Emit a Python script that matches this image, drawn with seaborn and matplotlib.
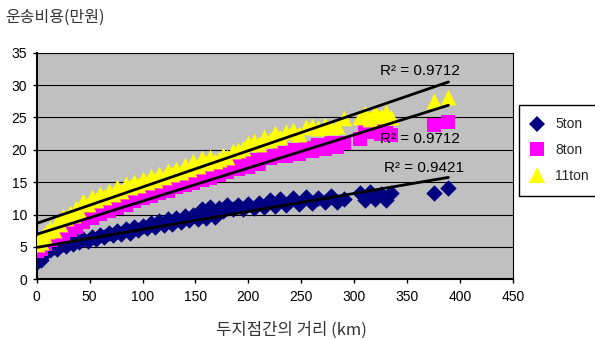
import numpy as np
import pandas as pd
import matplotlib
matplotlib.use("Agg")
import matplotlib.pyplot as plt
import seaborn as sns

# 두 지점간 거리(km)
distance = [0, 2, 4, 6, 8, 10, 13, 16, 19, 22, 25, 28, 31, 34, 37, 40,
            44, 48, 52, 56, 60, 64, 68, 72, 76, 80, 84, 88, 92, 96, 100,
            104, 108, 112, 116, 120, 124, 128, 132, 136, 140, 144, 148, 152,
            156, 160, 164, 168, 172, 176, 180, 185, 190, 195, 200, 205, 210,
            215, 220, 225, 230, 236, 242, 248, 254, 260, 266, 272, 278, 284,
            290, 305, 310, 315, 320, 325, 330, 335, 375, 389]

# 운송비용(만원)
cost_5ton = [2.7, 3.4, 3.0, 3.7, 4.0, 4.4, 4.6, 5.0, 4.7, 5.3, 5.5, 5.2, 5.9, 5.5, 6.1, 5.8,
             6.3, 5.9, 6.6, 6.2, 6.9, 6.5, 7.2, 6.8, 7.4, 7.0, 7.8, 7.2, 8.1, 7.6, 8.3,
             7.9, 8.7, 8.1, 9.0, 8.4, 9.3, 8.6, 9.5, 8.9, 9.7, 9.1, 10.0, 9.3,
             10.8, 9.4, 11.2, 9.6, 11.0, 10.6, 11.4, 10.8, 11.5, 10.8, 11.6, 11.0, 11.8,
             11.1, 12.3, 11.3, 12.4, 11.4, 12.5, 11.6, 12.7, 11.8, 12.6, 12.0, 12.8, 11.9,
             12.4, 13.4, 12.3, 13.5, 12.4, 13.2, 12.3, 13.4, 13.4, 14.1]

cost_8ton = [4.4, 5.3, 4.7, 5.8, 5.4, 6.3, 6.0, 6.9, 6.5, 7.5, 7.0, 8.1, 7.6, 8.6, 8.1, 9.3,
             8.8, 9.9, 9.4, 10.6, 10.1, 11.1, 10.5, 11.6, 11.0, 12.1, 11.5, 12.7, 12.1, 13.2, 12.5,
             13.6, 12.9, 13.9, 13.4, 14.4, 13.7, 14.8, 14.2, 15.2, 14.6, 15.6, 14.9, 16.0,
             15.4, 16.4, 15.7, 16.8, 16.1, 17.2, 16.5, 17.6, 17.0, 18.0, 17.4, 18.4, 17.8,
             18.9, 18.7, 19.0, 19.5, 19.0, 19.9, 19.3, 20.3, 19.8, 20.7, 20.2, 21.0, 20.5,
             21.1, 21.6, 23.9, 22.8, 23.3, 22.4, 22.6, 22.3, 23.8, 24.3]

cost_11ton = [5.4, 6.0, 5.7, 6.8, 6.5, 7.5, 7.9, 7.6, 8.8, 8.5, 9.7, 9.4, 10.3, 10.0, 11.0, 10.6,
              12.1, 11.6, 12.7, 12.2, 13.2, 12.7, 13.7, 13.2, 14.2, 13.7, 14.7, 14.2, 15.1, 14.6, 15.5,
              15.0, 15.9, 15.4, 16.3, 15.8, 16.7, 16.2, 17.1, 16.6, 17.6, 17.1, 18.2, 17.5,
              18.8, 17.9, 18.9, 18.3, 18.6, 19.2, 18.9, 19.8, 20.0, 20.3, 21.0, 21.3, 20.9,
              22.0, 21.5, 22.6, 22.0, 22.7, 23.0, 22.5, 23.5, 23.7, 23.3, 23.9, 23.5, 23.7,
              24.9, 25.1, 25.7, 24.8, 25.9, 25.3, 25.8, 25.1, 27.5, 28.1]

series_names = ["5ton", "8ton", "11ton"]
r2_labels = ["R\u00b2 = 0.9421", "R\u00b2 = 0.9712", "R\u00b2 = 0.9712"]

sns.set_theme(style="white")
plt.rcParams['font.family'] = ['Liberation Sans', 'Noto Sans CJK KR', 'DejaVu Sans']

df = pd.DataFrame({"distance": distance * 3,
                   "cost": cost_5ton + cost_8ton + cost_11ton,
                   "truck": np.repeat(series_names, len(distance))})

colors = {"5ton": "#000080", "8ton": "#FF00FF", "11ton": "#FFFF00"}
markers = {"5ton": "D", "8ton": "s", "11ton": "^"}
sizes = {"5ton": 70, "8ton": 90, "11ton": 130}

fig = plt.figure(figsize=(5.95, 3.4), dpi=100)
ax = fig.add_axes([36.7 / 595, 1 - 279.3 / 340, (513 - 36.7) / 595, (279.3 - 52.7) / 340])
ax.set_facecolor("#C0C0C0")

# 산점도
handles = []
for name in series_names:
    sub = df[df["truck"] == name]
    sns.scatterplot(data=sub, x="distance", y="cost", marker=markers[name],
                    color=colors[name], s=sizes[name], linewidth=0, ax=ax,
                    zorder=3, legend=False)
    handles.append(plt.Line2D([], [], marker=markers[name], color=colors[name],
                              linestyle="", markersize=np.sqrt(sizes[name]),
                              markeredgewidth=0))

# 선형 추세선
for name in series_names:
    sub = df[df["truck"] == name]
    sns.regplot(data=sub, x="distance", y="cost", scatter=False, ci=None,
                color="black", line_kws={"linewidth": 2.0, "zorder": 5}, ax=ax)

# R² 표시 위치
r2_x = [366, 362, 362]
r2_y = [17.2, 21.6, 32.1]
for lab, tx, ty in zip(r2_labels, r2_x, r2_y):
    ax.text(tx, ty, lab, fontsize=11, ha="center", va="center", color="black", zorder=6)

ax.set_xlim(0, 450)
ax.set_ylim(0, 35)
ax.set_xticks(range(0, 451, 50))
ax.set_yticks(range(0, 36, 5))
ax.yaxis.grid(True, color="black", linewidth=0.8)
ax.set_axisbelow(True)
ax.tick_params(axis="both", direction="out", length=3, width=1, color="black",
               labelsize=10, labelcolor="black", pad=4)
ax.tick_params(axis="x", pad=5)
ax.tick_params(bottom=True, left=True)
for side in ["left", "bottom"]:
    ax.spines[side].set_color("black")
    ax.spines[side].set_linewidth(1.5)
for side in ["top", "right"]:
    ax.spines[side].set_color("black")
    ax.spines[side].set_linewidth(0.8)
ax.set_xlabel("")
ax.set_ylabel("")

fig.text(5 / 595, 1 - 17 / 340, "운송비용(만원)", fontsize=11.5, color="#333333",
         ha="left", va="center", family=['Noto Sans CJK KR', 'DejaVu Sans'])
fig.text(291 / 595, 1 - 330.5 / 340, "두지점간의 거리 (km)", fontsize=12, color="#333333",
         ha="center", va="center", family=['Noto Sans CJK KR', 'DejaVu Sans'])

leg = fig.legend(handles, series_names, loc="upper left",
                 bbox_to_anchor=(519 / 595, 1 - 105 / 340), fontsize=10,
                 frameon=True, fancybox=False, edgecolor="black", framealpha=1,
                 borderpad=0.9, labelspacing=0.85, handletextpad=0.9, handlelength=0.8,
                 borderaxespad=0)
leg.get_frame().set_linewidth(1.0)

fig.savefig("out.png", dpi=100)
